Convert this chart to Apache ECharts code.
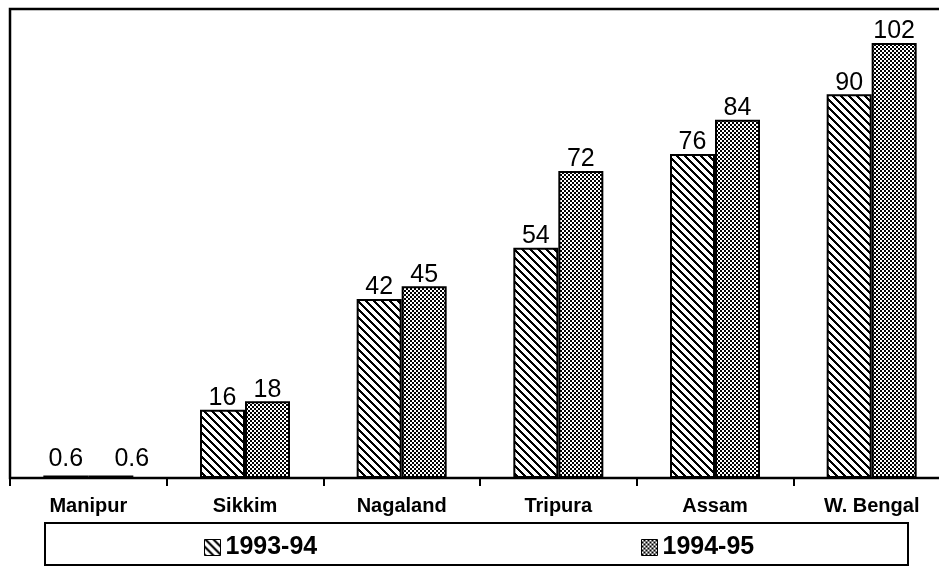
<!DOCTYPE html>
<html>
<head>
<meta charset="utf-8">
<script src="https://cdn.jsdelivr.net/npm/echarts@6/dist/echarts.min.js"></script>
<style>
  html, body { margin: 0; padding: 0; background: #fff; overflow: hidden; }
  /* chart is wider than the window: the plot frame runs off the right edge */
  #chart { width: 970px; height: 567px; }
</style>
</head>
<body>
<div id="chart"></div>
<script>
// data
var categories = ['Manipur', 'Sikkim', 'Nagaland', 'Tripura', 'Assam', 'W. Bengal'];
var seriesNames = ['1993-94', '1994-95'];
var values9394 = [0.6, 16, 42, 54, 76, 90];
var values9495 = [0.6, 18, 45, 72, 84, 102];

// fill patterns (diagonal hatch and fine dots)
function makeTile(size, isBlack) {
    var c = document.createElement('canvas');
    c.width = size;
    c.height = size;
    var ctx = c.getContext('2d');
    ctx.fillStyle = '#fff';
    ctx.fillRect(0, 0, size, size);
    ctx.fillStyle = '#000';
    for (var y = 0; y < size; y++) {
        for (var x = 0; x < size; x++) {
            if (isBlack(x, y)) ctx.fillRect(x, y, 1, 1);
        }
    }
    return c;
}
var hatch = makeTile(8, function (x, y) { return ((x - y + 16) % 8) < 3; });
var dots = makeTile(4, function (x, y) { return ((x % 4 < 2) !== (y % 4 < 2)); });

var myChart = echarts.init(document.getElementById('chart'));

var FONT = 'Liberation Sans, Arial, sans-serif';
var labelStyle = {
    show: true,
    position: 'top',
    distance: -1,
    color: '#000',
    fontSize: 25,
    fontFamily: FONT
};

// the Manipur labels sit a little higher, the second one pushed right so they don't collide
var data9394 = values9394.map(function (v, i) {
    return i === 0 ? { value: v, label: { offset: [0, -5] } } : v;
});
var data9495 = values9495.map(function (v, i) {
    return i === 0 ? { value: v, label: { offset: [21, -5] } } : v;
});

var legendText = { fontSize: 25, fontWeight: 'bold', color: '#000', fontFamily: FONT };

var option = {
    backgroundColor: '#fff',
    animation: false,
    grid: {
        left: 10,
        top: 9,
        width: 940,
        height: 469,
        show: true,
        borderColor: '#000',
        borderWidth: 2.5,
        backgroundColor: 'transparent'
    },
    legend: [
        {
            data: [seriesNames[0]],
            left: 204,
            top: 535,
            padding: 0,
            icon: 'rect',
            itemWidth: 16,
            itemHeight: 16,
            itemStyle: { borderWidth: 1, borderColor: '#000' },
            textStyle: legendText
        },
        {
            data: [seriesNames[1]],
            left: 641,
            top: 535,
            padding: 0,
            icon: 'rect',
            itemWidth: 16,
            itemHeight: 16,
            itemStyle: { borderWidth: 1, borderColor: '#000' },
            textStyle: legendText
        }
    ],
    graphic: [
        {
            type: 'rect',
            shape: { x: 45, y: 523, width: 863, height: 42 },
            style: { fill: 'none', stroke: '#000', lineWidth: 2 },
            silent: true
        }
    ],
    xAxis: {
        type: 'category',
        data: categories,
        axisLine: { lineStyle: { color: '#000', width: 2 } },
        axisTick: { show: true, length: 8, lineStyle: { color: '#000', width: 2 } },
        axisLabel: {
            margin: 18,
            color: '#000',
            fontSize: 20,
            fontWeight: 'bold',
            fontFamily: FONT
        }
    },
    yAxis: {
        type: 'value',
        min: 0,
        max: 110,
        show: false,
        splitLine: { show: false }
    },
    series: [
        {
            name: seriesNames[0],
            type: 'bar',
            data: data9394,
            barWidth: 45,
            barGap: '0%',
            itemStyle: {
                color: { image: hatch, repeat: 'repeat' },
                borderColor: '#000',
                borderWidth: 2
            },
            label: labelStyle
        },
        {
            name: seriesNames[1],
            type: 'bar',
            data: data9495,
            barWidth: 45,
            barGap: '0%',
            itemStyle: {
                color: { image: dots, repeat: 'repeat' },
                borderColor: '#000',
                borderWidth: 2
            },
            label: labelStyle
        }
    ]
};

myChart.setOption(option);
</script>
</body>
</html>
